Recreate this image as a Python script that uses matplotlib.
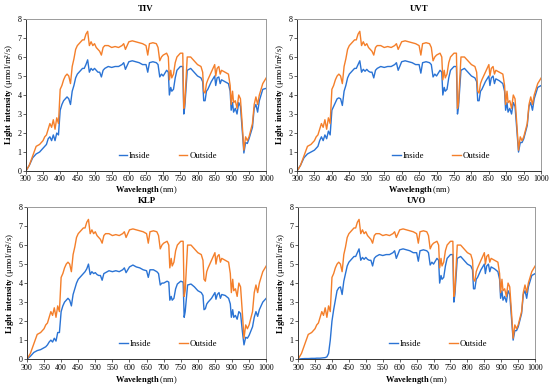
import matplotlib
matplotlib.use('Agg')
import matplotlib.pyplot as plt

# wavelength grid (nm)
wavelength = [300, 310, 320, 330, 340, 350, 355, 360, 365, 370, 375, 380, 385, 390, 395,
              400, 405, 410, 415, 420, 425, 430, 435, 440, 445, 450, 455, 460, 465, 470,
              475, 480, 485, 490, 495, 500, 505, 510, 515, 520, 525, 530, 540, 550, 560,
              570, 580, 585, 590, 600, 610, 620, 630, 640, 650, 655, 660, 670, 680, 685,
              690, 695, 700, 710, 715, 718, 722, 725, 730, 735, 740, 750, 757, 760, 763,
              770, 780, 790, 800, 810, 815, 818, 822, 826, 830, 840, 850, 853, 857, 862,
              866, 870, 880, 890, 895, 898, 902, 905, 910, 915, 920, 925, 930, 935, 940,
              945, 950, 960, 965, 970, 975, 980, 990, 1000]

outside = [0, 0.3, 0.8, 1.3, 1.4, 1.6, 1.8, 1.9, 2.2, 2.5, 2.3, 2.7, 2.2, 2.8, 2.5,
           4.3, 4.5, 4.8, 5.0, 5.1, 5.0, 4.6, 5.5, 5.9, 6.4, 6.6, 6.7, 6.8, 6.9, 6.9,
           7.2, 7.35, 6.6, 6.8, 6.6, 6.7, 6.5, 6.4, 6.3, 6.1, 6.5, 6.6, 6.6, 6.5, 6.55,
           6.5, 6.6, 6.7, 6.4, 6.8, 6.85, 6.8, 6.75, 6.7, 6.6, 6.1, 6.7, 6.75, 6.7, 6.5,
           5.8, 6.0, 6.1, 6.2, 6.0, 4.8, 5.3, 4.9, 5.1, 5.7, 6.0, 6.2, 6.2, 3.3, 3.6,
           6.0, 6.0, 5.8, 5.6, 5.5, 5.2, 4.2, 4.1, 4.6, 4.8, 5.2, 5.6, 5.0, 5.4, 5.5,
           5.1, 5.3, 5.2, 5.1, 4.5, 3.5, 4.2, 3.6, 3.7, 3.3, 4.0, 3.8, 2.5, 1.1, 1.8,
           1.6, 1.8, 2.5, 3.5, 3.9, 3.5, 4.0, 4.6, 4.9]

inside_tiv = [0, 0.3, 0.7, 0.9, 1.0, 1.2, 1.3, 1.4, 1.7, 1.8, 1.6, 1.9, 1.6, 2.0, 1.9,
              3.2, 3.5, 3.7, 3.8, 3.9, 3.8, 3.5, 4.2, 4.5, 4.9, 5.1, 5.2, 5.3, 5.4, 5.4,
              5.6, 5.85, 5.2, 5.4, 5.3, 5.4, 5.3, 5.2, 5.2, 4.95, 5.3, 5.4, 5.5, 5.45, 5.5,
              5.5, 5.6, 5.7, 5.35, 5.75, 5.8, 5.75, 5.7, 5.6, 5.6, 5.2, 5.7, 5.75, 5.7, 5.6,
              4.95, 5.1, 5.0, 5.3, 5.2, 4.0, 4.4, 4.2, 4.3, 4.9, 5.3, 5.5, 5.5, 3.0, 3.4,
              5.3, 5.4, 5.2, 5.0, 4.9, 4.7, 3.7, 3.7, 4.2, 4.3, 4.7, 5.0, 4.5, 4.9, 4.95,
              4.6, 4.8, 4.7, 4.6, 4.2, 3.2, 3.6, 3.1, 3.3, 3.0, 3.6, 3.4, 2.2, 0.95, 1.5,
              1.45, 1.7, 2.3, 3.3, 3.5, 3.1, 3.7, 4.3, 4.35]

inside_uvt = [0, 0.3, 0.7, 0.9, 1.0, 1.1, 1.2, 1.3, 1.6, 1.8, 1.6, 1.9, 1.7, 2.1, 1.9,
              3.2, 3.4, 3.6, 3.8, 3.85, 3.8, 3.45, 4.2, 4.5, 4.9, 5.1, 5.2, 5.3, 5.4, 5.4,
              5.6, 5.8, 5.2, 5.35, 5.25, 5.35, 5.25, 5.2, 5.2, 4.9, 5.3, 5.4, 5.5, 5.45, 5.5,
              5.5, 5.6, 5.7, 5.3, 5.75, 5.8, 5.75, 5.7, 5.6, 5.6, 5.15, 5.7, 5.75, 5.7, 5.6,
              4.95, 5.1, 5.0, 5.3, 5.2, 4.0, 4.4, 4.2, 4.3, 4.9, 5.3, 5.5, 5.5, 3.0, 3.4,
              5.3, 5.4, 5.2, 5.0, 4.9, 4.7, 3.7, 3.7, 4.2, 4.3, 4.7, 5.0, 4.5, 4.9, 5.0,
              4.6, 4.85, 4.75, 4.6, 4.2, 3.2, 3.6, 3.1, 3.3, 3.0, 3.6, 3.4, 2.2, 1.0, 1.5,
              1.5, 1.7, 2.4, 3.4, 3.6, 3.2, 3.8, 4.4, 4.5]

inside_klp = [0, 0.15, 0.35, 0.45, 0.5, 0.6, 0.65, 0.75, 0.9, 1.0, 0.9, 1.1, 0.95, 1.4, 1.4,
              2.5, 2.8, 3.0, 3.1, 3.2, 3.1, 2.8, 3.4, 3.7, 4.0, 4.2, 4.3, 4.4, 4.5, 4.6,
              4.75, 5.0, 4.45, 4.6, 4.5, 4.55, 4.45, 4.4, 4.4, 4.15, 4.5, 4.55, 4.65, 4.6, 4.65,
              4.6, 4.7, 4.8, 4.55, 4.85, 4.95, 4.85, 4.8, 4.7, 4.65, 4.3, 4.7, 4.7, 4.6, 4.5,
              3.9, 4.0, 4.0, 4.1, 4.05, 3.1, 3.3, 3.1, 3.2, 3.7, 3.95, 4.1, 4.05, 2.2, 2.5,
              3.9, 3.95, 3.8, 3.6, 3.5, 3.35, 2.6, 2.65, 2.9, 3.0, 3.2, 3.5, 3.15, 3.4, 3.5,
              3.2, 3.4, 3.35, 3.2, 2.9, 2.2, 2.6, 2.2, 2.3, 2.1, 2.5, 2.4, 1.5, 0.75, 1.15,
              1.1, 1.25, 1.7, 2.2, 2.5, 2.25, 2.6, 3.0, 3.2]

inside_uvo = [0, 0.02, 0.03, 0.03, 0.04, 0.04, 0.05, 0.05, 0.05, 0.06, 0.07, 0.08, 0.12, 0.3, 1.0,
              2.0, 2.6, 3.1, 3.6, 3.75, 3.8, 3.4, 4.1, 4.5, 4.9, 5.1, 5.2, 5.3, 5.4, 5.4,
              5.6, 5.8, 5.2, 5.35, 5.25, 5.35, 5.25, 5.2, 5.2, 4.9, 5.3, 5.4, 5.5, 5.45, 5.5,
              5.5, 5.6, 5.7, 5.3, 5.75, 5.8, 5.75, 5.7, 5.6, 5.6, 5.15, 5.7, 5.75, 5.7, 5.6,
              4.95, 5.1, 5.0, 5.3, 5.2, 4.0, 4.4, 4.2, 4.3, 4.9, 5.3, 5.5, 5.5, 3.0, 3.4,
              5.3, 5.4, 5.2, 5.0, 4.9, 4.7, 3.7, 3.7, 4.2, 4.3, 4.7, 5.0, 4.5, 4.9, 5.0,
              4.6, 4.85, 4.75, 4.6, 4.2, 3.2, 3.6, 3.1, 3.3, 3.0, 3.6, 3.4, 2.2, 1.0, 1.5,
              1.5, 1.7, 2.4, 3.4, 3.6, 3.2, 3.8, 4.4, 4.5]

titles = ['TIV', 'UVT', 'KLP', 'UVO']
insides = [inside_tiv, inside_uvt, inside_klp, inside_uvo]
xticks = list(range(300, 1001, 50))
yticks = list(range(0, 9))

plt.rcParams['font.family'] = ['Liberation Serif', 'DejaVu Serif']
plt.rcParams['mathtext.fontset'] = 'custom'
plt.rcParams['mathtext.rm'] = 'Liberation Serif'
plt.rcParams['mathtext.bf'] = 'Liberation Serif:bold'

BLUE = '#2A73D4'
ORANGE = '#F47F2A'

fig = plt.figure(figsize=(5.5, 3.87), dpi=100)
boxes = [
    [0.047, 0.558, 0.437, 0.393],
    [0.540, 0.558, 0.444, 0.393],
    [0.049, 0.072, 0.435, 0.393],
    [0.542, 0.072, 0.431, 0.393],
]

for i, (title, inside, box) in enumerate(zip(titles, insides, boxes)):
    ax = fig.add_axes(box)
    ax.plot(wavelength, inside, color=BLUE, lw=1.0, label='Inside')
    ax.plot(wavelength, outside, color=ORANGE, lw=1.0, label='Outside')
    ax.set_xlim(300, 1000)
    ax.set_ylim(0, 8)
    ax.set_xticks(xticks)
    ax.set_yticks(yticks)
    ax.tick_params(labelsize=5.8, length=2, width=0.6, pad=1.2, color='#444444')
    for side in ['top', 'right']:
        ax.spines[side].set_color('#9a9a9a')
        ax.spines[side].set_linewidth(0.7)
    for side in ['left', 'bottom']:
        ax.spines[side].set_color('#333333')
        ax.spines[side].set_linewidth(0.7)
    top_row = i < 2
    ax.set_title(title, fontsize=6.3, fontweight='bold', pad=6 if top_row else 3)
    ax.set_ylabel(r'$\mathbf{Light\ intensity}$ (μmol/m²/s)', fontsize=6.3, labelpad=2)
    ax.set_xlabel(r'$\mathbf{Wavelength}$ (nm)', fontsize=6.0,
                  labelpad=0.3 if top_row else 2)
    ax.legend(loc='lower center', bbox_to_anchor=(0.59, 0.02), ncol=2, frameon=False,
              fontsize=6.3, handlelength=1.0, handletextpad=0.2, columnspacing=3.2)

fig.savefig('out.png', dpi=100)
